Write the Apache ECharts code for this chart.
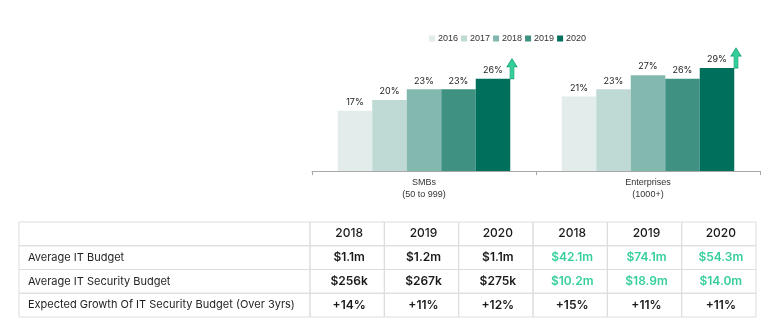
<!DOCTYPE html>
<html>
<head>
<meta charset="utf-8">
<style>
  html, body { margin: 0; padding: 0; background: #ffffff; }
  #chart { width: 777px; height: 335px; }
</style>
<script src="https://cdn.jsdelivr.net/npm/echarts@6/dist/echarts.min.js"></script>
</head>
<body>
<div id="chart"></div>
<script>
// Share of IT budget spent on security, by company size and year
const categories = ['SMBs\n(50 to 999)', 'Enterprises\n(1000+)'];
const years = ['2016', '2017', '2018', '2019', '2020'];
const share2016 = [17, 21];
const share2017 = [20, 23];
const share2018 = [23, 27];
const share2019 = [23, 26];
const share2020 = [26, 29];
const yearColors = ['#e2ecea', '#bfd9d5', '#82b8ae', '#3f9282', '#006f5c'];

// Budget table
const tableYears = ['2018', '2019', '2020', '2018', '2019', '2020'];
const rowLabels = [
  'Average IT Budget',
  'Average IT Security Budget',
  'Expected Growth Of IT Security Budget (Over 3yrs)'
];
const avgItBudget = ['$1.1m', '$1.2m', '$1.1m', '$42.1m', '$74.1m', '$54.3m'];
const avgSecBudget = ['$256k', '$267k', '$275k', '$10.2m', '$18.9m', '$14.0m'];
const expectedGrowth = ['+14%', '+11%', '+12%', '+15%', '+11%', '+11%'];

const barFont = 'Inter, "Noto Sans", sans-serif';
const tableFont = 'Inter, "Noto Sans", sans-serif';
const mint = '#36cf9c';
const gridLine = '#dddddd';

const seriesValues = [share2016, share2017, share2018, share2019, share2020];

// Arrow glyph (up arrow) for latest-year bars
const arrowPath = 'path://M3,8 L3,20 L7,20 L7,8 L10,8 L5,0 L0,8 Z';

const barSeries = years.map((y, i) => {
  const s = {
    name: y,
    type: 'bar',
    xAxisIndex: 0,
    yAxisIndex: 0,
    barGap: '0%',
    barCategoryGap: '23%',
    data: seriesValues[i],
    itemStyle: { color: yearColors[i] },
    label: {
      show: true,
      position: 'top',
      distance: 4,
      formatter: p => p.value + '%',
      fontFamily: barFont,
      fontSize: 9,
      color: '#222'
    }
  };
  if (i === years.length - 1) {
    s.markPoint = {
      symbol: arrowPath,
      symbolSize: [10, 20],
      symbolOffset: [19, -10],
      silent: true,
      label: { show: false },
      itemStyle: { color: mint, borderColor: '#18a578', borderWidth: 0.8 },
      data: seriesValues[i].map((v, k) => ({ coord: [k, v] }))
    };
  }
  return s;
});

// Table cells: row 0 is the header, rows 1..3 hold values
const valueRows = [avgItBudget, avgSecBudget, expectedGrowth];
const labelCells = [[0, 0, '']].concat(rowLabels.map((t, r) => [0, r + 1, t]));
const valueCells = [];
tableYears.forEach((t, c) => valueCells.push([c, 0, t, 'head']));
valueRows.forEach((row, r) => {
  row.forEach((t, c) => {
    const green = r < 2 && c >= 3;
    valueCells.push([c, r + 1, t, green ? 'green' : 'plain']);
  });
});

function cellRect(api, c, r) {
  const p = api.coord([c, r]);
  const s = api.size([1, 1]);
  return { x: p[0] - s[0] / 2, y: p[1] - s[1] / 2, w: s[0], h: s[1], cx: p[0], cy: p[1] };
}

const labelSeries = {
  type: 'custom',
  xAxisIndex: 1,
  yAxisIndex: 1,
  silent: true,
  data: labelCells.map(d => [d[0], d[1]]),
  renderItem: (params, api) => {
    const cell = labelCells[params.dataIndex];
    const b = cellRect(api, cell[0], cell[1]);
    return {
      type: 'group',
      children: [
        { type: 'rect', shape: { x: b.x, y: b.y, width: b.w, height: b.h },
          style: { fill: 'none', stroke: gridLine, lineWidth: 1 } },
        { type: 'text', x: b.x + 9, y: b.cy,
          style: { text: cell[2], fill: '#1f1f1f', font: '11px ' + tableFont,
                   textAlign: 'left', textVerticalAlign: 'middle' } }
      ]
    };
  }
};

const valueSeries = {
  type: 'custom',
  xAxisIndex: 2,
  yAxisIndex: 2,
  silent: true,
  data: valueCells.map(d => [d[0], d[1]]),
  renderItem: (params, api) => {
    const cell = valueCells[params.dataIndex];
    const b = cellRect(api, cell[0], cell[1]);
    const kind = cell[3];
    const font = kind === 'head' ? '500 12px ' + tableFont : '600 12px ' + tableFont;
    return {
      type: 'group',
      children: [
        { type: 'rect', shape: { x: b.x, y: b.y, width: b.w, height: b.h },
          style: { fill: 'none', stroke: gridLine, lineWidth: 1 } },
        { type: 'text', x: b.cx + 2, y: b.cy,
          style: { text: cell[2], fill: kind === 'green' ? mint : '#1a1a1a', font: font,
                   textAlign: 'center', textVerticalAlign: 'middle' } }
      ]
    };
  }
};

const chart = echarts.init(document.getElementById('chart'), null, { renderer: 'canvas' });
chart.setOption({
  animation: false,
  backgroundColor: '#ffffff',
  legend: {
    data: years,
    top: 29,
    left: 424,
    itemWidth: 6,
    itemHeight: 6,
    itemGap: 3,
    icon: 'rect',
    textStyle: { fontFamily: '"Liberation Sans", Arial, sans-serif', fontSize: 9, color: '#333', padding: [0, 0, 0, -2] }
  },
  grid: [
    { left: 312, right: 17, top: 29, bottom: 164 },
    { left: 19, top: 222, width: 291, height: 95 },
    { left: 310, top: 222, width: 446, height: 95 }
  ],
  xAxis: [
    {
      type: 'category',
      gridIndex: 0,
      data: categories,
      axisLine: { lineStyle: { color: '#a8a8a8', width: 1 } },
      axisTick: { show: true, length: 4, lineStyle: { color: '#a8a8a8' } },
      axisLabel: {
        fontFamily: '"Liberation Sans", Arial, sans-serif',
        fontSize: 9,
        color: '#333',
        lineHeight: 12,
        margin: 6
      }
    },
    { type: 'category', gridIndex: 1, data: ['label'], show: false },
    { type: 'category', gridIndex: 2, data: tableYears.map((y, i) => i), show: false }
  ],
  yAxis: [
    { type: 'value', gridIndex: 0, min: 0, max: 40, show: false },
    { type: 'category', gridIndex: 1, data: [0, 1, 2, 3], inverse: true, show: false },
    { type: 'category', gridIndex: 2, data: [0, 1, 2, 3], inverse: true, show: false }
  ],
  series: barSeries.concat([labelSeries, valueSeries])
});
</script>
</body>
</html>
